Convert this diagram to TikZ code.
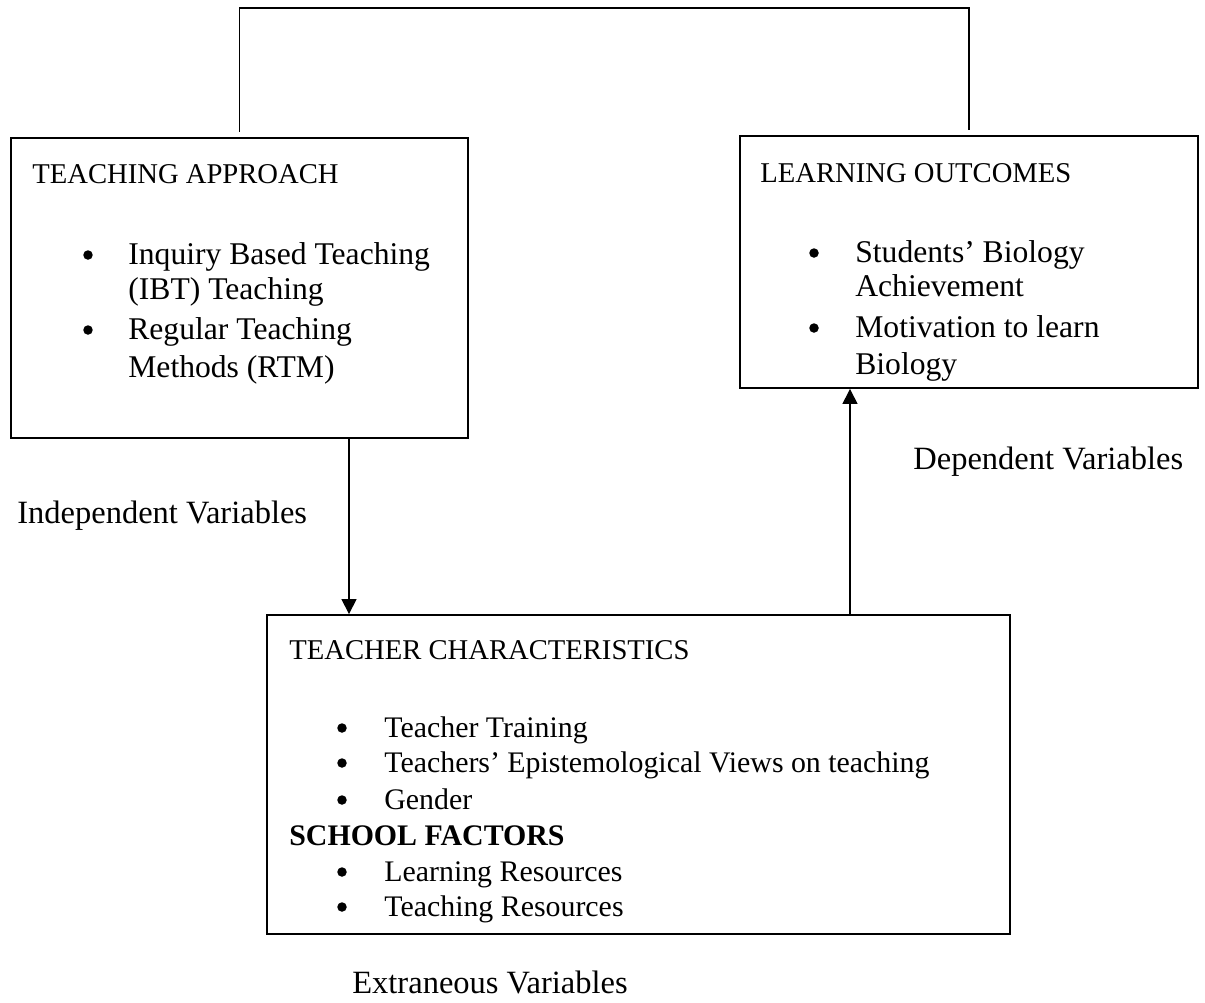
\documentclass[tikz,border=0pt]{standalone}
\usepackage{fontspec}
\setmainfont{Liberation Serif}
\usetikzlibrary{arrows.meta}
\begin{document}
\begin{tikzpicture}[x=0.02cm,y=-0.02cm,
  box/.style={draw,line width=1.1pt,inner sep=0pt},
  link/.style={line width=0.8pt},
  arr/.style={line width=0.8pt,-{Triangle[length=0.3cm,width=0.3cm]}},
  dot/.style={circle,fill,inner sep=0pt,minimum size=0.19cm},
  txt/.style={anchor=base west,inner sep=0pt,font=\fontsize{18}{21}\selectfont},
  small/.style={anchor=base west,inner sep=0pt,font=\fontsize{17}{20}\selectfont},
  head/.style={anchor=base west,inner sep=0pt,font=\fontsize{16.3}{19}\selectfont},
  lbl/.style={anchor=base west,inner sep=0pt,font=\fontsize{18.5}{22}\selectfont}]
  \useasboundingbox (0,0) rectangle (1205,1002);
  % boxes
  \node[box,minimum width=9.14cm,minimum height=6cm] (ta) at (239.5,288) {};
  \node[box,minimum width=9.16cm,minimum height=5.04cm] (lo) at (969,262) {};
  \node[box,minimum width=14.86cm,minimum height=6.38cm] (tc) at (638.5,774.5) {};
  % teaching approach
  \node[head] (tahead) at (32,183) {TEACHING APPROACH};
  \node[dot] (tab1) at (88,255) {};
  \node[txt] (tat1) at (128,264) {Inquiry Based Teaching};
  \node[txt] (tat2) at (128,299) {(IBT) Teaching};
  \node[dot] (tab2) at (88,330) {};
  \node[txt] (tat3) at (128,339) {Regular Teaching};
  \node[txt] (tat4) at (128,377) {Methods (RTM)};
  % learning outcomes
  \node[head] (lohead) at (760,182) {LEARNING OUTCOMES};
  \node[dot] (lob1) at (814,253) {};
  \node[txt] (lot1) at (855,262) {Students’ Biology};
  \node[txt] (lot2) at (855,296) {Achievement};
  \node[dot] (lob2) at (814,328) {};
  \node[txt] (lot3) at (855,337) {Motivation to learn};
  \node[txt] (lot4) at (855,374) {Biology};
  % teacher characteristics
  \node[head] (tchead) at (289,659) {TEACHER CHARACTERISTICS};
  \node[dot] (tcb1) at (342,728) {};
  \node[small] (tct1) at (384,737) {Teacher Training};
  \node[dot] (tcb2) at (342,763) {};
  \node[small] (tct2) at (384,772) {Teachers’ Epistemological Views on teaching};
  \node[dot] (tcb3) at (342,800) {};
  \node[small] (tct3) at (384,809) {Gender};
  \node[small,font=\fontsize{17}{20}\selectfont\bfseries] (school) at (289,845) {SCHOOL FACTORS};
  \node[dot] (tcb4) at (342,872) {};
  \node[small] (tct4) at (384,881) {Learning Resources};
  \node[dot] (tcb5) at (342,907) {};
  \node[small] (tct5) at (384,916) {Teaching Resources};
  % variable labels
  \node[lbl] (indep) at (17,523) {Independent Variables};
  \node[lbl] (dep) at (913,469) {Dependent Variables};
  \node[lbl] (extra) at (352,993) {Extraneous Variables};
  % connectors
  \coordinate (top) at (0,8);
  \coordinate (down) at (349,0);
  \coordinate (up) at (850,0);
  \draw[link] ([yshift=3pt]ta.north) -- (ta.north |- top) -- (lo.north |- top) -- ([yshift=3pt]lo.north);
  \draw[arr] (ta.south -| down) -- (tc.north -| down);
  \draw[arr] (tc.north -| up) -- (lo.south -| up);
\end{tikzpicture}
\end{document}
